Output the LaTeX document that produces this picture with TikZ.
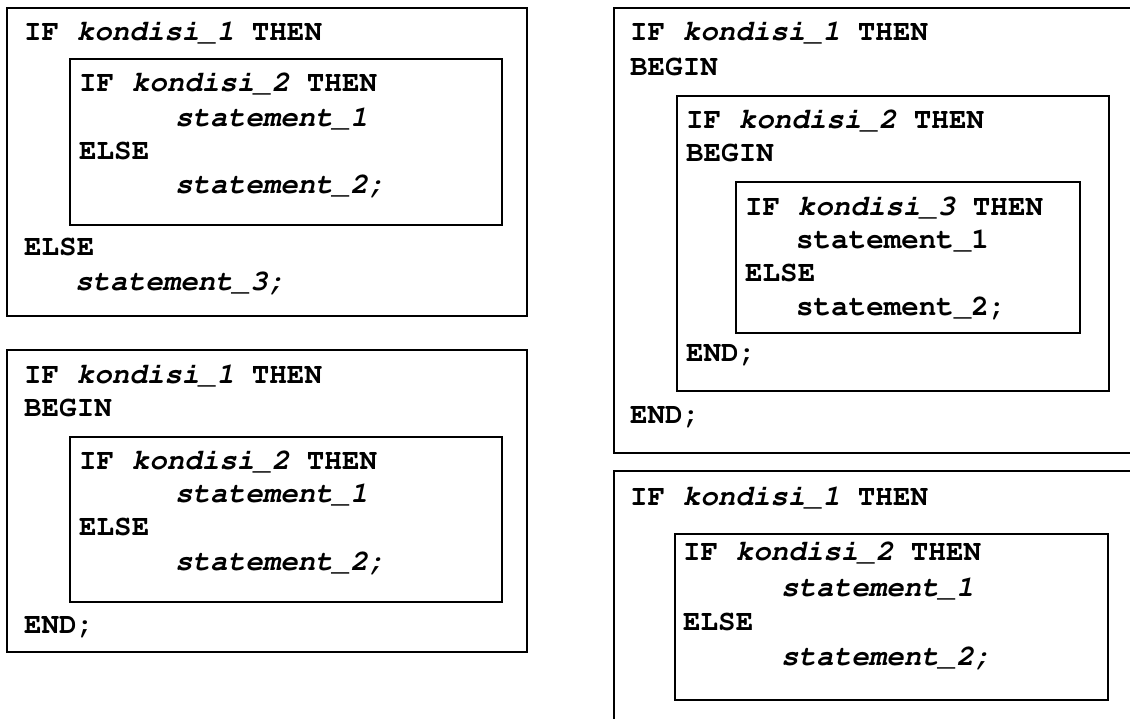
\documentclass[tikz,border=0pt]{standalone}
\usepackage[T1]{fontenc}
\usepackage{tikz}
\newcommand{\courbold}{\fontencoding{T1}\fontfamily{pcr}\fontseries{b}\fontshape{n}\fontsize{29.2}{34}\selectfont}

\begin{document}
\begin{tikzpicture}[x=1pt,y=-1pt,
    code/.style={anchor=base west, inner sep=0pt, font=\courbold},
    frame/.style={draw=black, line width=2pt}]
    \useasboundingbox (0,0) rectangle (1130,718);
    \clip (0,0) rectangle (1130,718);

    \draw[frame] (7,8) rectangle (527,316);
    \draw[frame] (70,59) rectangle (502,225);
    \node[code] (A1) at (24,40.9) {IF \textit{kondisi\_1} THEN};
    \node[code] (A2) at (79,91.6) {IF \textit{kondisi\_2} THEN};
    \node[code] (A3) at (175,126.6) {\textit{statement\_1}};
    \node[code] (A4) at (79,159.6) {ELSE};
    \node[code] (A5) at (175,193.6) {\textit{statement\_2;}};
    \node[code] (A6) at (24,255.6) {ELSE};
    \node[code] (A7) at (75,290.6) {\textit{statement\_3;}};

    \draw[frame] (7,350) rectangle (527,652);
    \draw[frame] (70,437) rectangle (502,602);
    \node[code] (B1) at (24,383.6) {IF \textit{kondisi\_1} THEN};
    \node[code] (B2) at (24,416.6) {BEGIN};
    \node[code] (B3) at (79,469.3) {IF \textit{kondisi\_2} THEN};
    \node[code] (B4) at (175,502.6) {\textit{statement\_1}};
    \node[code] (B5) at (79,535.6) {ELSE};
    \node[code] (B6) at (175,570.6) {\textit{statement\_2;}};
    \node[code] (B7) at (24,633.6) {END;};

    \draw[frame] (613.5,8) rectangle (1150,453);
    \draw[frame] (677,96) rectangle (1109,391);
    \draw[frame] (736,182) rectangle (1080,333);
    \node[code] (C1) at (630,40.3) {IF \textit{kondisi\_1} THEN};
    \node[code] (C2) at (630,75.3) {BEGIN};
    \node[code] (C3) at (686,128.6) {IF \textit{kondisi\_2} THEN};
    \node[code] (C4) at (686,161.6) {BEGIN};
    \node[code] (C5) at (745,215.6) {IF \textit{kondisi\_3} THEN};
    \node[code] (C6) at (796,248.6) {statement\_1};
    \node[code] (C7) at (745,281.6) {ELSE};
    \node[code] (C8) at (796,315.6) {statement\_2;};
    \node[code] (C9) at (686,361.6) {END;};
    \node[code] (C10) at (630,423.6) {END;};

    \draw[frame] (613.5,471) rectangle (1150,740);
    \draw[frame] (675,534) rectangle (1108,700);
    \node[code] (D1) at (630,505.3) {IF \textit{kondisi\_1} THEN};
    \node[code] (D2) at (683,560.3) {IF \textit{kondisi\_2} THEN};
    \node[code] (D3) at (781,596.9) {\textit{statement\_1}};
    \node[code] (D4) at (683,630.3) {ELSE};
    \node[code] (D5) at (781,665.3) {\textit{statement\_2;}};
\end{tikzpicture}
\end{document}
